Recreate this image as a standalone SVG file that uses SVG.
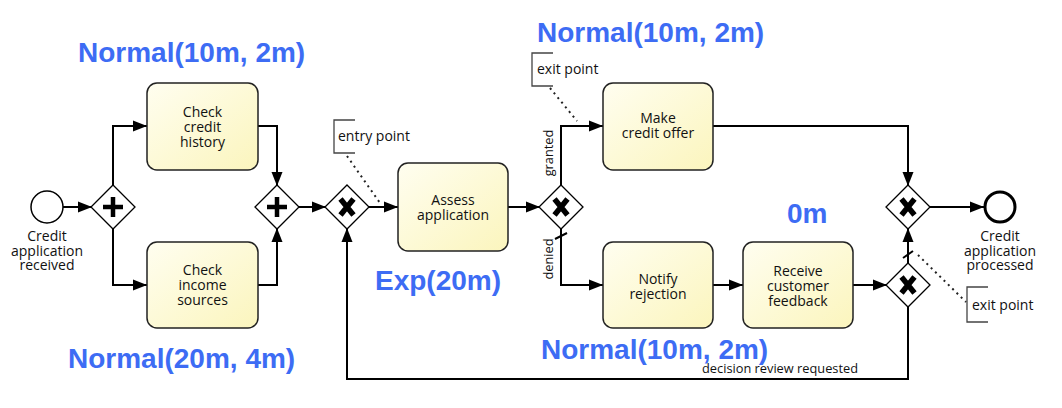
<svg xmlns="http://www.w3.org/2000/svg" width="1062" height="408" viewBox="0 0 1062 408">
<defs>
<linearGradient id="taskFill" x1="0" y1="0" x2="1" y2="1">
<stop offset="0" stop-color="#fffef0"/>
<stop offset="1" stop-color="#fbf5bd"/>
</linearGradient>
<marker id="arrow" markerUnits="userSpaceOnUse" markerWidth="15" markerHeight="12" refX="14" refY="6" orient="auto">
<path d="M0,0.5 L14,6 L0,11.5 z" fill="#000"/>
</marker>
</defs>
<style>
.task rect{fill:url(#taskFill);stroke:#222;stroke-width:1.5}
.gw polygon{fill:#fff;stroke:#000;stroke-width:1.3}
.mark{stroke:#000;stroke-width:4.5;fill:none;stroke-linecap:butt}
.xmark{stroke:#000;stroke-width:5.5;fill:none;stroke-linecap:butt}
.lbl{font-family:"Open Sans","DejaVu Sans",sans-serif;font-size:14px;fill:#111;text-anchor:middle}
.small{font-family:"Open Sans","DejaVu Sans",sans-serif;font-size:12.8px;fill:#111}
.note{font-family:"Open Sans","DejaVu Sans",sans-serif;font-size:14px;fill:#111}
.flow{fill:none;stroke:#000;stroke-width:2}
.flowA{fill:none;stroke:#000;stroke-width:2;marker-end:url(#arrow)}
.dot{fill:none;stroke:#222;stroke-width:2;stroke-dasharray:2,4}
.bracket{fill:none;stroke:#444;stroke-width:1.3}
.blue{font-family:"Liberation Sans",Arial,sans-serif;font-weight:bold;font-size:28px;fill:#3d6cf4}
</style>

<g id="connectors">
<path class="flowA" d="M63,207 L92,207"/>
<path class="flowA" d="M113,186 L113,126 L147,126"/>
<path class="flowA" d="M113,228 L113,285 L147,285"/>
<path class="flowA" d="M258,126 L277,126 L277,186"/>
<path class="flowA" d="M258,285 L277,285 L277,228"/>
<path class="flowA" d="M298,207 L326,207"/>
<path class="flowA" d="M368,207 L398,207"/>
<path class="flowA" d="M508,207 L540,207"/>
<path class="flowA" d="M561,186 L561,126 L603,126"/>
<path class="flowA" d="M561,228 L561,285 L603,285"/>
<path class="flow" d="M555,239 L567,233"/>
<path class="flowA" d="M713,126 L908,126 L908,186"/>
<path class="flowA" d="M713,285 L743,285"/>
<path class="flowA" d="M853,285 L887,285"/>
<path class="flowA" d="M908,264 L908,228"/>
<path class="flow" d="M903,258 L913,251"/>
<path class="flowA" d="M929,207 L984,207"/>
<path class="flowA" d="M908,306 L908,379 L347,379 L347,228"/>
<text class="small" text-anchor="middle" transform="rotate(-90 553 153)"><tspan x="553" y="153">granted</tspan></text>
<text class="small" text-anchor="middle" transform="rotate(-90 553 259)"><tspan x="553" y="259">denied</tspan></text>
<text class="small" x="702" y="373">decision review requested</text>
</g>

<g id="start">
<circle cx="47" cy="207" r="16" fill="#fff" stroke="#000" stroke-width="1.5"/>
<text class="lbl"><tspan x="47" y="241">Credit</tspan><tspan x="47" y="255.5">application</tspan><tspan x="47" y="270">received</tspan></text>
</g>

<g id="fork" class="gw">
<polygon points="113,185 135,207 113,229 91,207"/>
<path class="mark" d="M113,197 L113,217 M103,207 L123,207"/>
</g>

<g id="checkCredit" class="task">
<rect x="147" y="83" width="111" height="87" rx="10"/>
<text class="lbl"><tspan x="202.5" y="117">Check</tspan><tspan x="202.5" y="132">credit</tspan><tspan x="202.5" y="147">history</tspan></text>
</g>

<g id="checkIncome" class="task">
<rect x="147" y="242" width="111" height="86" rx="10"/>
<text class="lbl"><tspan x="202.5" y="275">Check</tspan><tspan x="202.5" y="290">income</tspan><tspan x="202.5" y="305">sources</tspan></text>
</g>

<g id="join" class="gw">
<polygon points="277,185 299,207 277,229 255,207"/>
<path class="mark" d="M277,197 L277,217 M267,207 L287,207"/>
</g>

<g id="xorMerge" class="gw">
<polygon points="347,185 369,207 347,229 325,207"/>
<path class="xmark" d="M340.5,199 L353.5,215 M353.5,199 L340.5,215"/>
</g>

<g id="entryNote">
<path class="bracket" d="M355,120 L334,120 L334,153 L355,153"/>
<text class="note" x="338" y="141">entry point</text>
<path class="dot" d="M347,156 L380,203"/>
</g>

<g id="assess" class="task">
<rect x="398" y="163" width="110" height="88" rx="10"/>
<text class="lbl"><tspan x="453" y="205">Assess</tspan><tspan x="453" y="220">application</tspan></text>
</g>

<g id="xorDecision" class="gw">
<polygon points="561,185 583,207 561,229 539,207"/>
<path class="xmark" d="M554.5,199 L567.5,215 M567.5,199 L554.5,215"/>
</g>

<g id="exitNote1">
<path class="bracket" d="M553,53 L532,53 L532,86 L553,86"/>
<text class="note" x="537" y="74">exit point</text>
<path class="dot" d="M550,88 L577,121"/>
</g>

<g id="makeOffer" class="task">
<rect x="603" y="83" width="110" height="87" rx="10"/>
<text class="lbl"><tspan x="658" y="123">Make</tspan><tspan x="658" y="138">credit offer</tspan></text>
</g>

<g id="notify" class="task">
<rect x="603" y="242" width="110" height="86" rx="10"/>
<text class="lbl"><tspan x="658" y="284">Notify</tspan><tspan x="658" y="299">rejection</tspan></text>
</g>

<g id="receive" class="task">
<rect x="743" y="242" width="110" height="86" rx="10"/>
<text class="lbl"><tspan x="798" y="276">Receive</tspan><tspan x="798" y="291">customer</tspan><tspan x="798" y="306">feedback</tspan></text>
</g>

<g id="xorFinal" class="gw">
<polygon points="908,185 930,207 908,229 886,207"/>
<path class="xmark" d="M901.5,199 L914.5,215 M914.5,199 L901.5,215"/>
</g>

<g id="xorReview" class="gw">
<polygon points="908,263 930,285 908,307 886,285"/>
<path class="xmark" d="M901.5,277 L914.5,293 M914.5,277 L901.5,293"/>
</g>

<g id="exitNote2">
<path class="bracket" d="M988,287 L967,287 L967,322 L988,322"/>
<text class="note" x="972" y="310">exit point</text>
<path class="dot" d="M918,255 L966,302"/>
</g>

<g id="end">
<circle cx="1000" cy="207" r="15" fill="#fff" stroke="#000" stroke-width="3"/>
<text class="lbl"><tspan x="1000" y="241">Credit</tspan><tspan x="1000" y="255.5">application</tspan><tspan x="1000" y="270">processed</tspan></text>
</g>

<g id="durations">
<text class="blue" x="78" y="62">Normal(10m, 2m)</text>
<text class="blue" x="537" y="42">Normal(10m, 2m)</text>
<text class="blue" x="787" y="223">0m</text>
<text class="blue" x="375" y="290">Exp(20m)</text>
<text class="blue" x="68" y="368">Normal(20m, 4m)</text>
<text class="blue" x="541" y="359">Normal(10m, 2m)</text>
</g>
</svg>
